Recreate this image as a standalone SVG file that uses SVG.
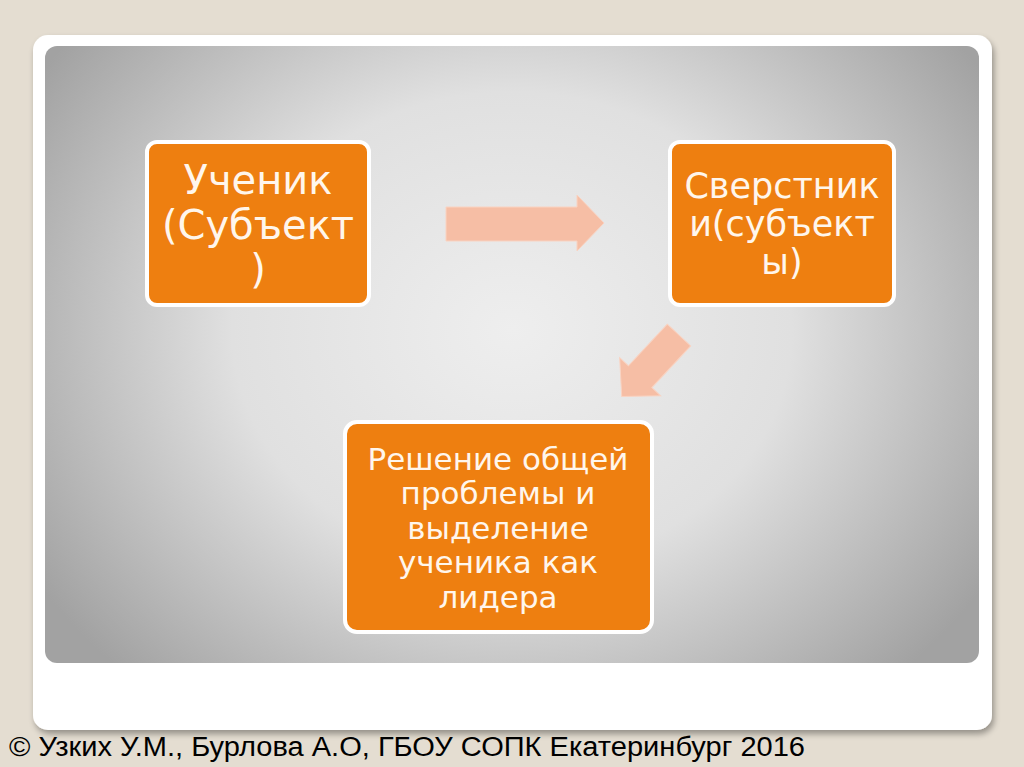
<svg xmlns="http://www.w3.org/2000/svg" width="1024" height="767" viewBox="0 0 1024 767">
<defs>
<radialGradient id="panel" cx="512" cy="330" r="560" gradientUnits="userSpaceOnUse" gradientTransform="translate(512 330) scale(1 0.85) translate(-512 -330)">
<stop offset="0" stop-color="#eeeeee"/>
<stop offset="0.5" stop-color="#e0e0e0"/>
<stop offset="1" stop-color="#a2a2a2"/>
</radialGradient>
<filter id="sh" x="-5%" y="-5%" width="110%" height="110%">
<feGaussianBlur in="SourceAlpha" stdDeviation="3"/>
<feOffset dx="2" dy="4"/>
<feComponentTransfer><feFuncA type="linear" slope="0.35"/></feComponentTransfer>
<feMerge><feMergeNode/><feMergeNode in="SourceGraphic"/></feMerge>
</filter>
</defs>
<style>
.box{fill:#ee7f10;stroke:#ffffff;stroke-width:4}
.t{font-family:"DejaVu Sans",Verdana,sans-serif;fill:#fff6ec;text-anchor:middle}
.arr{fill:#f6bea5;stroke:#f9d3c2;stroke-width:1}
</style>
<rect x="0" y="0" width="1024" height="767" fill="#e4ddd1"/>
<rect x="33" y="35" width="959" height="695" rx="15" fill="#ffffff" filter="url(#sh)"/>
<rect x="45" y="46" width="934" height="617" rx="12" fill="url(#panel)"/>
<g id="node-uchenik">
<rect class="box" x="147" y="142" width="222" height="163" rx="10"/>
<text class="t" font-size="40"><tspan x="258" y="194">Ученик</tspan><tspan x="258" y="239">(Субъект</tspan><tspan x="258" y="283">)</tspan></text>
</g>
<g id="node-sverstniki">
<rect class="box" x="670" y="142" width="224" height="163" rx="10"/>
<text class="t" font-size="35"><tspan x="782" y="198">Сверстник</tspan><tspan x="782" y="236">и(субъект</tspan><tspan x="782" y="274">ы)</tspan></text>
</g>
<g id="node-reshenie">
<rect class="box" x="345" y="422" width="307" height="210" rx="12"/>
<text class="t" font-size="31"><tspan x="498" y="470">Решение общей</tspan><tspan x="498" y="504">проблемы и</tspan><tspan x="498" y="539">выделение</tspan><tspan x="498" y="573">ученика как</tspan><tspan x="498" y="608">лидера</tspan></text>
</g>
<g id="connectors">
<polygon class="arr" points="446,207 577,207 577,195 604,223 577,251 577,241 446,241"/>
<polygon class="arr" transform="translate(679 335) rotate(133)" points="0,-16 57,-16 57,-28 84,0 57,28 57,16 0,16"/>
</g>
<text x="9" y="756" font-family="'Liberation Sans',Arial,sans-serif" font-size="27" fill="#000000" textLength="796" lengthAdjust="spacingAndGlyphs">© Узких У.М., Бурлова А.О, ГБОУ СОПК Екатеринбург 2016</text>
</svg>
